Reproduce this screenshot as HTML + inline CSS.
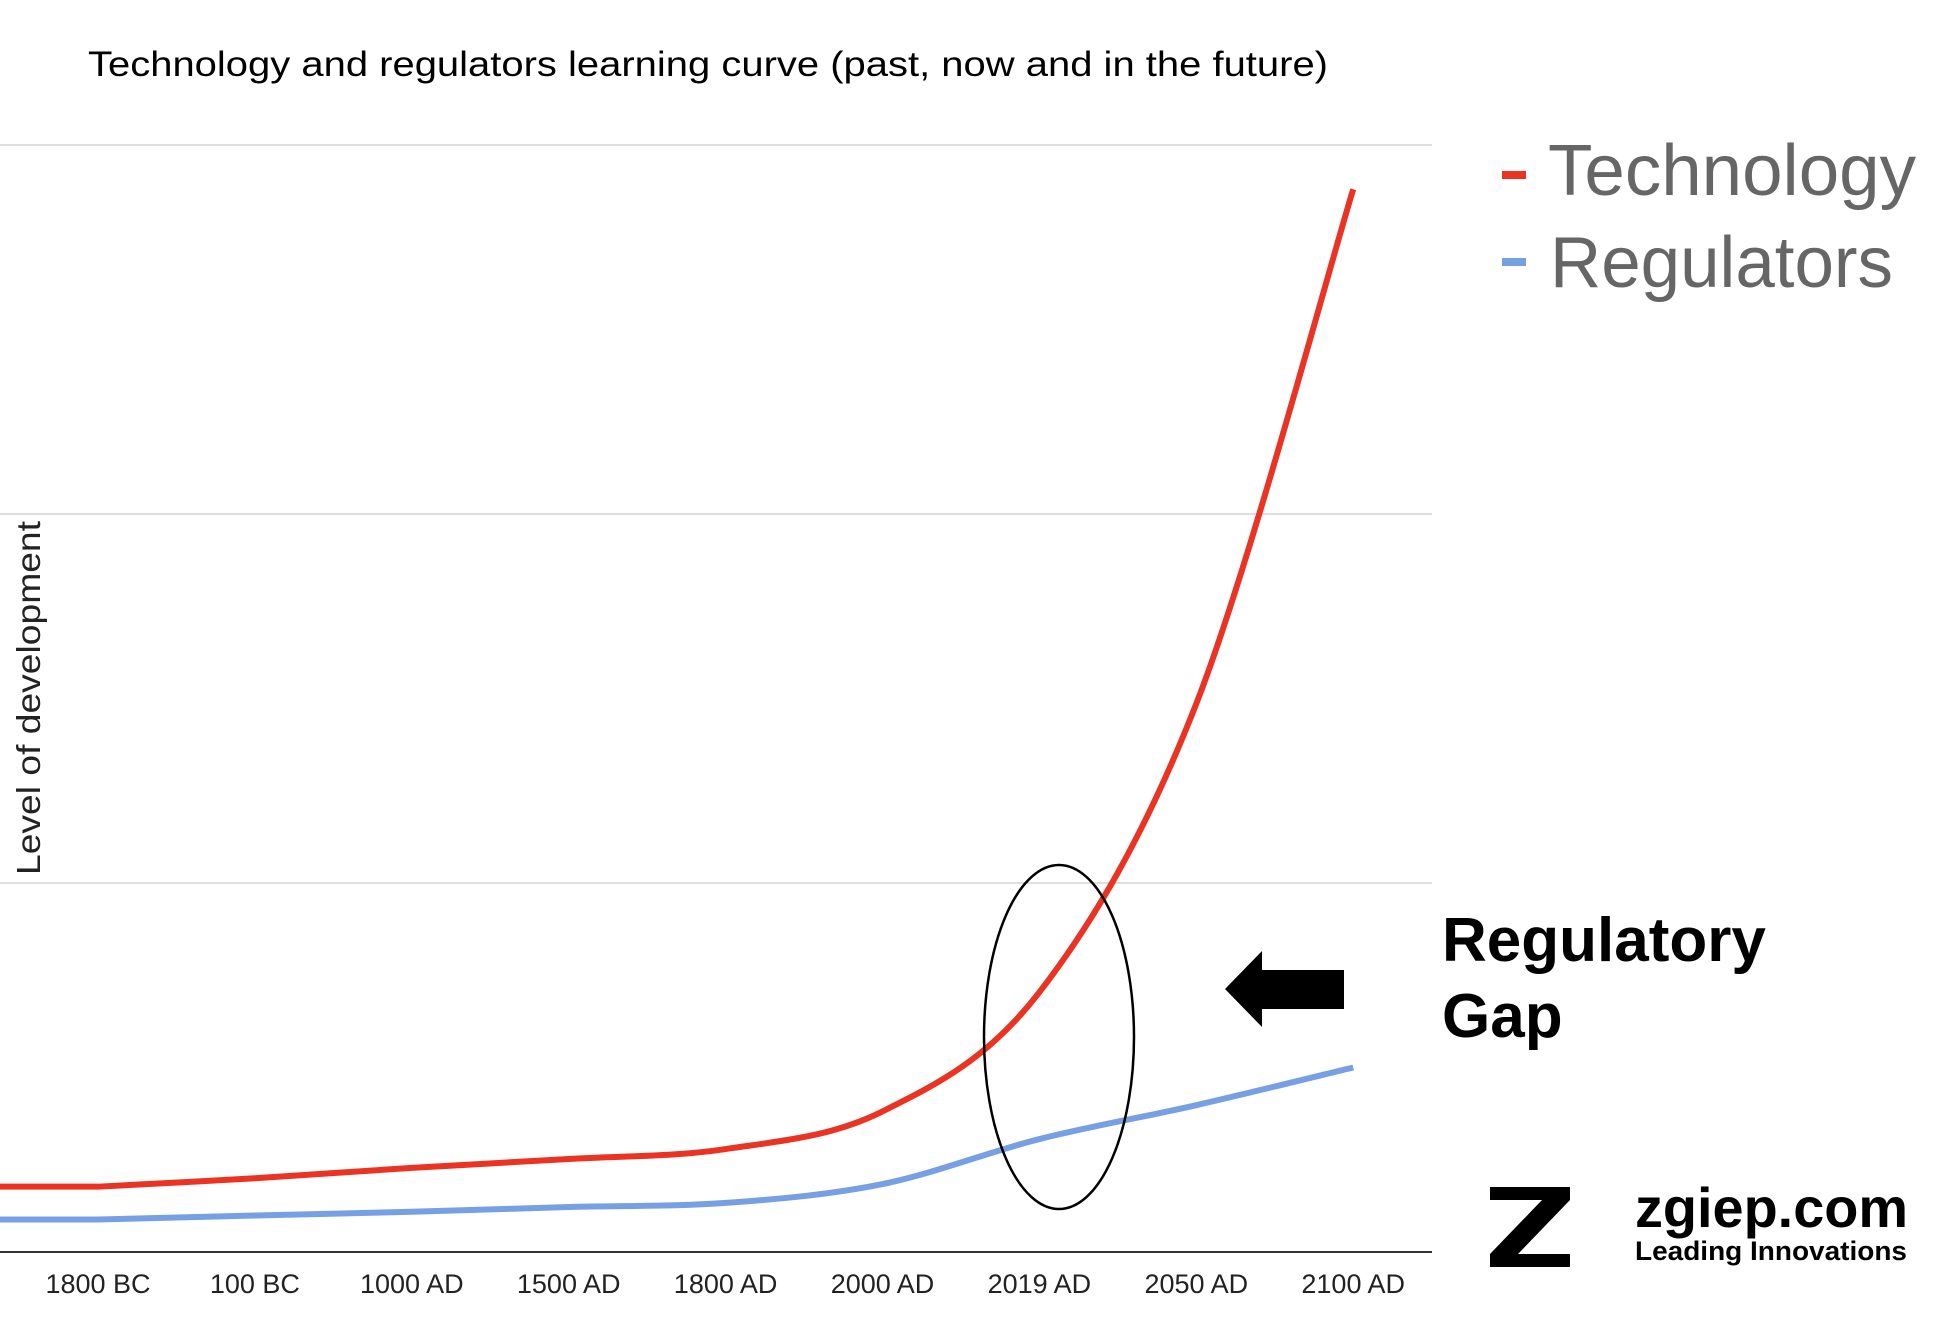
<!DOCTYPE html>
<html><head><meta charset="utf-8"><style>
html,body{margin:0;padding:0;background:#fff;}
body{width:1960px;height:1324px;overflow:hidden;font-family:"Liberation Sans",sans-serif;}
</style></head><body>
<svg id="chart" width="1960" height="1324" xmlns="http://www.w3.org/2000/svg" font-family="Liberation Sans, sans-serif">
<text x="88" y="76" font-size="35" fill="#000" textLength="1240" lengthAdjust="spacingAndGlyphs">Technology and regulators learning curve (past, now and in the future)</text>
<g id="grid"></g>
<g id="xlabels"></g>
<text transform="translate(40,698) rotate(-90)" text-anchor="middle" font-size="33" fill="#222" textLength="354" lengthAdjust="spacingAndGlyphs">Level of development</text>
<g id="series"></g>
<g>
<g>
<rect x="1502" y="171" width="24" height="8" fill="#ea3323"/>
<text x="1548" y="195" font-size="72" fill="#666" textLength="368" lengthAdjust="spacingAndGlyphs">Technology</text></g>
<g>
<rect x="1502" y="258" width="24" height="8" fill="#77a0e4"/>
<text x="1550" y="287" font-size="72" fill="#666" textLength="343" lengthAdjust="spacingAndGlyphs">Regulators</text></g>
</g>
<ellipse cx="1059" cy="1037" rx="75" ry="172" fill="none" stroke="#000" stroke-width="2.5"/>
<polygon points="1225,989 1262,951 1262,970 1344,970 1344,1009 1262,1009 1262,1027" fill="#000"/>
<text font-size="62" font-weight="bold" fill="#000"><tspan x="1442" y="961">Regulatory</tspan><tspan x="1442" y="1037">Gap</tspan></text>
<g>
<polygon points="1490,1187 1570,1187 1570,1200 1518,1254 1570,1254 1570,1267 1490,1267 1490,1254 1542,1200 1490,1200" fill="#000"/>
<text x="1635" y="1227" font-size="56" font-weight="bold" fill="#000" textLength="273" lengthAdjust="spacingAndGlyphs">zgiep.com</text>
<text x="1635" y="1260" font-size="27" font-weight="bold" fill="#000" textLength="272" lengthAdjust="spacingAndGlyphs">Leading Innovations</text>
</g>
</svg>
<script>
const categories=["1800 BC","100 BC","1000 AD","1500 AD","1800 AD","2000 AD","2019 AD","2050 AD","2100 AD"];
const technology=[0.177,0.2,0.228,0.252,0.279,0.381,0.704,1.486,2.88];
const regulators=[0.088,0.099,0.109,0.122,0.133,0.184,0.306,0.398,0.5];
const yTicks=[0,1,2,3];
const NS="http://www.w3.org/2000/svg";
const x0=98,dx=156.9,yBase=1252,yUnit=369,plotR=1432;
function xs(i){return x0+dx*i;}
function ys(v){return yBase-v*yUnit;}
const grid=document.getElementById('grid');
yTicks.forEach(t=>{const l=document.createElementNS(NS,'line');


l.setAttribute('x1',0);l.setAttribute('x2',plotR);l.setAttribute('y1',ys(t));l.setAttribute('y2',ys(t));
l.setAttribute('stroke',t===0?'#333':'#ccc');l.setAttribute('stroke-width',t===0?2:1.3);grid.appendChild(l);});
const xl=document.getElementById('xlabels');
categories.forEach((c,i)=>{const t=document.createElementNS(NS,'text');


t.setAttribute('x',xs(i));t.setAttribute('y',1293);t.setAttribute('text-anchor','middle');t.setAttribute('font-size','27');t.setAttribute('fill','#222');t.textContent=c;xl.appendChild(t);});
function path(vals){const p=vals.map((v,i)=>[xs(i),ys(v)]);
let d='M0,'+p[0][1]+' L'+p[0][0]+','+p[0][1];
for(let i=0;i<p.length-1;i++){const a=p[Math.max(i-1,0)],b=p[i],c=p[i+1],e=p[Math.min(i+2,p.length-1)];
d+=' C'+(b[0]+(c[0]-a[0])/6)+','+(b[1]+(c[1]-a[1])/6)+' '+(c[0]-(e[0]-b[0])/6)+','+(c[1]-(e[1]-b[1])/6)+' '+c[0]+','+c[1];}
return d;}
const sg=document.getElementById('series');
[[regulators,'#77a0e4','regulators-line'],[technology,'#ea3323','technology-line']].forEach(s=>{
const pe=document.createElementNS(NS,'path');


pe.setAttribute('d',path(s[0]));pe.setAttribute('fill','none');pe.setAttribute('stroke',s[1]);pe.setAttribute('stroke-width','6');sg.appendChild(pe);});
</script>
</body></html>
